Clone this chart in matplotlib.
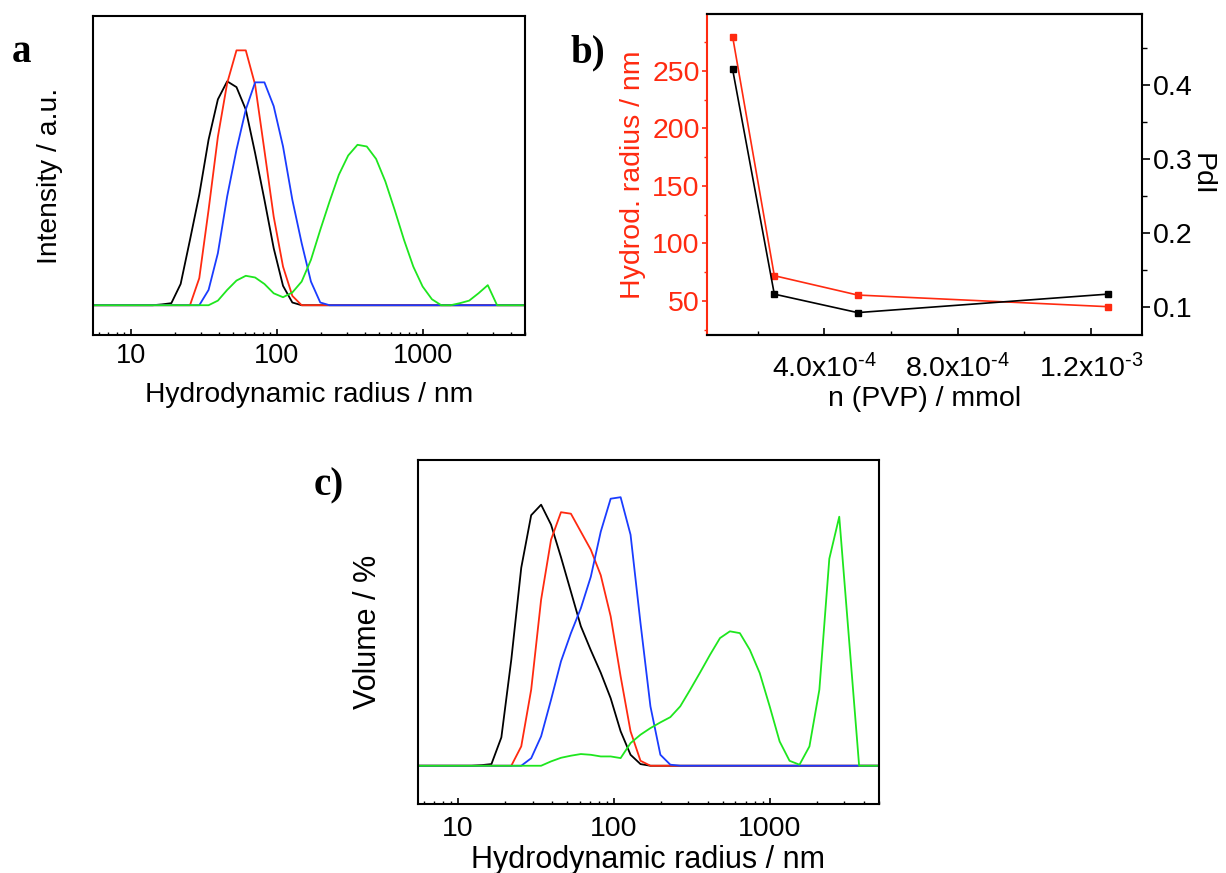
import matplotlib
matplotlib.use("Agg")
import matplotlib.pyplot as plt
from matplotlib.ticker import LogLocator, NullFormatter, FuncFormatter, MultipleLocator
import numpy as np

plt.rcParams['font.family'] = ['Liberation Sans', 'DejaVu Sans']
plt.rcParams['mathtext.fontset'] = 'custom'
plt.rcParams['mathtext.rm'] = 'Liberation Sans'
plt.rcParams['axes.unicode_minus'] = False

# size bins (hydrodynamic radius, nm)
radius = [4.36, 5.05, 5.85, 6.77, 7.85, 9.09, 10.52, 12.18, 14.11, 16.34,
          18.92, 21.91, 25.38, 29.39, 34.03, 39.41, 45.64, 52.85, 61.2, 70.9,
          82.1, 95.05, 110.1, 127.5, 147.7, 171.0, 198.1, 229.4, 265.6, 307.6,
          356.2, 412.5, 477.7, 553.0, 640.5, 742.0, 859.0, 995.0, 1152.5, 1334.5,
          1545.5, 1790.0, 2072.5, 2400.5, 2780.0, 3219.5, 3728.0, 4317.5, 5000.0]

# panel a: intensity distributions
int_black = [0, 0, 0, 0, 0, 0, 0, 0, 0, 0.05,
             0.12, 1.25, 3.84, 6.5, 9.73, 12.1, 13.16, 12.82, 11.5, 8.94,
             6.2, 3.35, 1.14, 0.16, 0, 0, 0, 0, 0, 0,
             0, 0, 0, 0, 0, 0, 0, 0, 0, 0,
             0, 0, 0, 0, 0, 0, 0, 0, 0]
int_red = [0, 0, 0, 0, 0, 0, 0, 0, 0, 0,
           0, 0, 0, 1.59, 5.6, 9.9, 13.06, 14.98, 14.98, 12.96,
           9.1, 5.2, 2.27, 0.55, 0, 0, 0, 0, 0, 0,
           0, 0, 0, 0, 0, 0, 0, 0, 0, 0,
           0, 0, 0, 0, 0, 0, 0, 0, 0]
int_blue = [0, 0, 0, 0, 0, 0, 0, 0, 0, 0,
            0, 0, 0, 0, 0.9, 3.06, 6.4, 9.14, 11.5, 13.1,
            13.1, 11.7, 9.33, 6.2, 3.65, 1.39, 0.16, 0, 0, 0,
            0, 0, 0, 0, 0, 0, 0, 0, 0, 0,
            0, 0, 0, 0, 0, 0, 0, 0, 0]
int_green = [0, 0, 0, 0, 0, 0, 0, 0, 0, 0,
             0, 0, 0, 0, 0, 0.27, 0.9, 1.45, 1.73, 1.63,
             1.25, 0.7, 0.47, 0.75, 1.39, 2.67, 4.43, 6.1, 7.67, 8.8,
             9.43, 9.33, 8.6, 7.27, 5.6, 3.84, 2.27, 1.1, 0.35, 0,
             0, 0.12, 0.27, 0.7, 1.18, 0, 0, 0, 0]

# panel c: volume distributions
vol_black = [0, 0, 0, 0, 0, 0, 0, 0, 0.04, 0.11,
             1.89, 7.07, 13.2, 16.7, 17.4, 16.07, 13.9, 11.6, 9.3, 7.7,
             6.2, 4.5, 2.3, 0.73, 0.11, 0, 0, 0, 0, 0,
             0, 0, 0, 0, 0, 0, 0, 0, 0, 0,
             0, 0, 0, 0, 0, 0, 0, 0, 0]
vol_red = [0, 0, 0, 0, 0, 0, 0, 0, 0, 0,
           0, 0, 1.29, 5.07, 11.07, 15.07, 16.9, 16.8, 15.6, 14.4,
           12.7, 9.96, 5.96, 2.29, 0.33, 0, 0, 0, 0, 0,
           0, 0, 0, 0, 0, 0, 0, 0, 0, 0,
           0, 0, 0, 0, 0, 0, 0, 0, 0]
vol_blue = [0, 0, 0, 0, 0, 0, 0, 0, 0, 0,
            0, 0, 0, 0.5, 1.96, 4.4, 6.96, 8.84, 10.5, 12.6,
            15.6, 17.8, 17.9, 15.4, 9.5, 3.96, 0.73, 0.07, 0, 0,
            0, 0, 0, 0, 0, 0, 0, 0, 0, 0,
            0, 0, 0, 0, 0, 0, 0, 0, 0]
vol_green = [0, 0, 0, 0, 0, 0, 0, 0, 0, 0,
             0, 0, 0, 0, 0, 0.29, 0.53, 0.67, 0.78, 0.73,
             0.62, 0.62, 0.51, 1.51, 2.07, 2.51, 2.89, 3.24, 3.96, 5.07,
             6.22, 7.4, 8.51, 8.96, 8.84, 7.73, 6.18, 3.96, 1.62, 0.33,
             0.07, 1.29, 5.07, 13.8, 16.6, 8.3, 0, 0, 0]

# panel b: size and PdI vs amount of PVP
n_pvp = [1.25e-4, 2.5e-4, 5e-4, 1.25e-3]
hydro_radius = [279.5, 72.0, 55.2, 45.1]
pdi = [0.421, 0.117, 0.092, 0.117]

RED = '#ff2a10'
BLUE = '#1a3cff'
GREEN = '#1ee61e'
BLACK = '#000000'

W, H = 1226, 873
fig = plt.figure(figsize=(W / 100, H / 100), dpi=100)


def box(l, t, r, b):
    return [l / W, 1 - b / H, (r - l) / W, (b - t) / H]


def size_panel(ax, curves, ylim, ylabel, fs_tick, fs_lab, ylab_x, tpad, lpad):
    for ys, c in curves:
        ax.plot(radius, ys, color=c, lw=1.3)
    ax.set_xscale('log')
    ax.set_xlim(5.5, 5000)
    ax.set_ylim(*ylim)
    ax.set_yticks([])
    ax.xaxis.set_major_locator(LogLocator(base=10, numticks=10))
    ax.xaxis.set_minor_locator(LogLocator(base=10, subs=np.arange(2, 10), numticks=20))
    ax.xaxis.set_minor_formatter(NullFormatter())
    ax.xaxis.set_major_formatter(FuncFormatter(lambda v, p: f'{v:g}'))
    ax.tick_params(axis='x', which='major', direction='in', length=4.5, width=1.2,
                   labelsize=fs_tick, pad=tpad)
    ax.tick_params(axis='x', which='minor', direction='in', length=2.5, width=1.0)
    for s in ax.spines.values():
        s.set_linewidth(1.5)
    ax.set_xlabel('Hydrodynamic radius / nm', fontsize=fs_lab, labelpad=lpad)
    ax.set_ylabel(ylabel, fontsize=fs_lab)
    ax.yaxis.set_label_coords(ylab_x, 0.5)


# panel a
ax_a = fig.add_axes(box(93, 16, 525, 335))
size_panel(ax_a, [(int_black, BLACK), (int_red, RED), (int_blue, BLUE), (int_green, GREEN)],
           (-1.75, 17.0), 'Intensity / a.u.', 19.5, 20.3, -0.07, 6, 9)

# panel c
ax_c = fig.add_axes(box(417.7, 460, 879, 804))
size_panel(ax_c, [(vol_black, BLACK), (vol_red, RED), (vol_blue, BLUE), (vol_green, GREEN)],
           (-2.55, 20.38), 'Volume / %', 20.5, 22, -0.075, 9, 2)

# panel b
ax_b = fig.add_axes(box(707.3, 14.3, 1141.7, 335))
ax_b2 = ax_b.twinx()
ax_b.plot(n_pvp, hydro_radius, color=RED, lw=1.2, marker='s', ms=5)
ax_b2.plot(n_pvp, pdi, color=BLACK, lw=1.2, marker='s', ms=5)
ax_b.set_xlim(0.49e-4, 1.352e-3)
ax_b.set_ylim(20.5, 299)
ax_b2.set_ylim(0.0617, 0.4957)


def sci_fmt(v, p):
    if abs(v) < 1e-12:
        return '0'
    e = int(np.floor(np.log10(abs(v)) + 1e-9))
    m = v / 10 ** e
    return r'$\mathregular{%.1fx10^{\text{-}%d}}$' % (m, abs(e))


ax_b.xaxis.set_major_locator(MultipleLocator(4e-4))
ax_b.xaxis.set_minor_locator(MultipleLocator(2e-4))
ax_b.xaxis.set_major_formatter(FuncFormatter(sci_fmt))
ax_b.yaxis.set_major_locator(MultipleLocator(50))
ax_b.yaxis.set_minor_locator(MultipleLocator(25))
ax_b2.yaxis.set_major_locator(MultipleLocator(0.1))
ax_b2.yaxis.set_minor_locator(MultipleLocator(0.05))
ax_b2.yaxis.set_major_formatter(FuncFormatter(lambda v, p: f'{v:.1f}'))

ax_b.tick_params(axis='x', which='major', direction='in', length=5, width=1.2,
                 labelsize=20.5, pad=14)
ax_b.tick_params(axis='x', which='minor', direction='in', length=3.2, width=1.0)
ax_b.tick_params(axis='y', which='major', direction='out', length=3.5, width=1.2,
                 colors=RED, labelsize=20.5, pad=2)
ax_b.tick_params(axis='y', which='minor', direction='out', length=2.4, width=1.0, colors=RED)
ax_b2.tick_params(axis='y', which='major', direction='out', length=6, width=1.2,
                  labelsize=20.5, pad=2)
ax_b2.tick_params(axis='y', which='minor', direction='out', length=3.5, width=1.0)

for s in ax_b.spines.values():
    s.set_linewidth(1.5)
for s in ax_b2.spines.values():
    s.set_linewidth(1.5)
ax_b.spines['left'].set_color(RED)
ax_b2.spines['left'].set_visible(False)
ax_b.spines['right'].set_visible(False)

ax_b.set_xlabel('n (PVP) / mmol', fontsize=20.5, labelpad=2)
ax_b.set_ylabel('Hydrod. radius / nm', fontsize=20.5, color=RED)
ax_b.yaxis.set_label_coords(-0.14, 0.5)
ax_b2.set_ylabel('PdI', fontsize=20.5, rotation=270, labelpad=16)

# panel letters
lab_font = dict(family='Liberation Serif', fontweight='bold', fontsize=28)
fig.text(12 / W, 1 - 62 / H, 'a', **lab_font)
fig.text(570 / W, 1 - 62 / H, 'b)', **lab_font)
fig.text(314 / W, 1 - 495 / H, 'c)', **lab_font)

fig.savefig('out.png', dpi=100)
